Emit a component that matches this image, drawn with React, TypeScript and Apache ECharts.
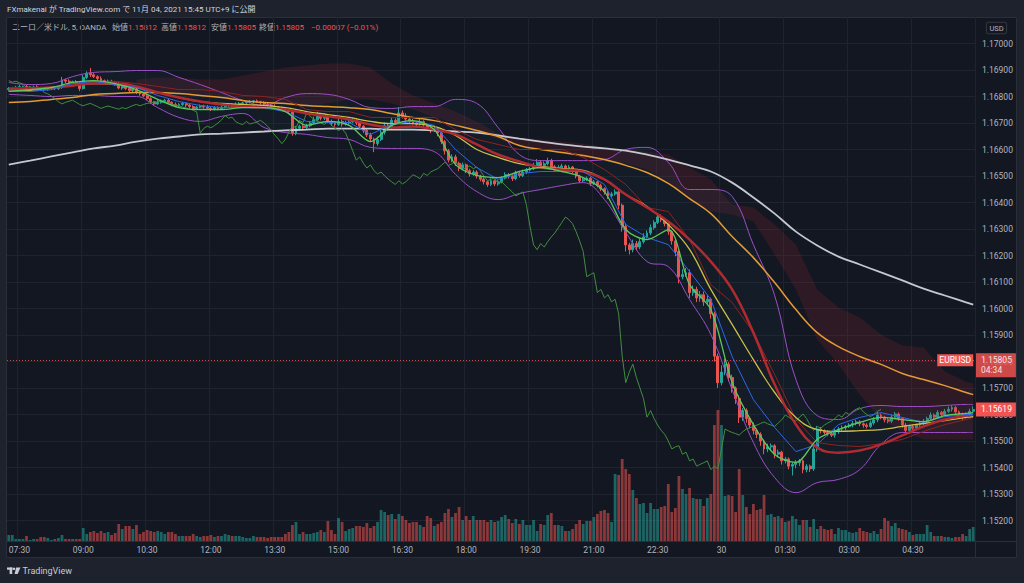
import React, { useEffect, useRef } from "react";
import * as echarts from "echarts";

// ---- values are stored in 0.00001 units above BASE ----
const BASE = 1.15;
const UNIT = 0.00001;
const firstOpen = 1826;

// 5-minute closes, 07:15 .. 05:55 (273 bars)
const closes = [
  1830, 1833, 1835, 1837, 1838, 1832, 1834, 1836, 1833, 1829, 1826, 1830, 1832, 1829, 1835, 1862, 1858, 1852,
  1856, 1848, 1830, 1872, 1888, 1882, 1875, 1868, 1860, 1854, 1858, 1852, 1847, 1832, 1838, 1830, 1822, 1828,
  1815, 1810, 1802, 1792, 1780, 1772, 1778, 1782, 1786, 1778, 1770, 1765, 1770, 1774, 1768, 1762, 1755, 1760,
  1764, 1760, 1756, 1752, 1758, 1754, 1760, 1766, 1770, 1765, 1770, 1774, 1776, 1778, 1780, 1784, 1780, 1776,
  1771, 1768, 1764, 1760, 1757, 1753, 1748, 1742, 1662, 1680, 1688, 1682, 1690, 1700, 1712, 1728, 1718, 1722,
  1705, 1698, 1694, 1706, 1696, 1700, 1704, 1710, 1700, 1688, 1672, 1655, 1640, 1622, 1638, 1665, 1690, 1682,
  1710, 1702, 1738, 1725, 1715, 1708, 1700, 1695, 1705, 1692, 1680, 1672, 1678, 1662, 1630, 1595, 1560, 1572,
  1548, 1530, 1542, 1520, 1508, 1515, 1500, 1488, 1478, 1468, 1482, 1470, 1478, 1492, 1505, 1498, 1490, 1510,
  1502, 1515, 1522, 1528, 1540, 1552, 1540, 1546, 1558, 1535, 1525, 1532, 1538, 1528, 1534, 1520, 1500, 1482,
  1488, 1492, 1472, 1478, 1465, 1452, 1440, 1425, 1432, 1440, 1390, 1310, 1240, 1222, 1245, 1232, 1252, 1270,
  1285, 1305, 1325, 1345, 1335, 1320, 1290, 1255, 1215, 1120, 1128, 1135, 1060, 1072, 1040, 1052, 1025, 1035,
  980, 820, 720, 760, 790, 740, 700, 660, 590, 615, 585, 560, 540, 525, 500, 470, 478, 482,
  450, 458, 425, 432, 405, 412, 418, 425, 392, 405, 395, 470, 545, 538, 532, 528, 522, 535,
  545, 550, 555, 560, 566, 572, 565, 560, 555, 568, 580, 598, 590, 580, 575, 590, 602, 585,
  560, 540, 555, 548, 560, 568, 575, 585, 598, 590, 608, 600, 612, 620, 626, 610, 600, 592,
  600, 612, 619,
];

const upWick = [
  6, 4, 5, 8, 3, 6, 4, 5, 7, 4, 6, 5, 3, 8, 6, 12, 5, 7,
  4, 6, 5, 9, 7, 20, 6, 5, 8, 4, 6, 5, 7, 10, 5, 4, 6, 3,
  5, 4, 6, 8, 5, 3, 9, 7, 5, 6, 4, 8, 5, 6, 3, 7, 5, 4,
  6, 5, 8, 4, 6, 5, 7, 6, 4, 5, 8, 6, 4, 5, 7, 3, 5, 4,
  6, 5, 4, 7, 3, 5, 6, 4, 8, 9, 6, 10, 7, 8, 12, 15, 9, 6,
  12, 8, 6, 14, 7, 9, 8, 10, 6, 7, 5, 6, 8, 5, 10, 14, 12, 9,
  11, 8, 22, 9, 12, 7, 8, 6, 10, 5, 7, 6, 9, 5, 8, 6, 7, 10,
  8, 6, 9, 5, 7, 8, 6, 5, 7, 4, 9, 5, 8, 7, 9, 6, 8, 10,
  6, 9, 8, 7, 10, 12, 8, 9, 11, 7, 6, 9, 8, 5, 7, 4, 6, 5,
  8, 6, 5, 7, 4, 6, 5, 4, 8, 10, 5, 6, 12, 8, 15, 10, 12, 14,
  10, 12, 8, 15, 10, 6, 8, 5, 7, 4, 20, 18, 12, 15, 10, 14, 12, 16,
  6, 8, 10, 25, 20, 8, 10, 6, 12, 9, 8, 6, 10, 7, 8, 5, 12, 9,
  6, 10, 5, 8, 6, 9, 10, 7, 5, 8, 6, 10, 12, 8, 6, 9, 7, 10,
  8, 9, 6, 7, 10, 8, 6, 5, 7, 9, 10, 12, 6, 5, 7, 10, 8, 6,
  5, 8, 6, 7, 5, 9, 8, 7, 10, 6, 8, 5, 9, 10, 8, 6, 5, 7,
  8, 10, 12,
];

const downWick = [
  5, 6, 4, 3, 7, 5, 6, 4, 5, 8, 5, 4, 6, 5, 4, 6, 8, 5,
  6, 5, 10, 4, 6, 8, 5, 7, 4, 6, 5, 8, 6, 5, 7, 6, 5, 8,
  6, 7, 5, 6, 8, 7, 4, 5, 6, 5, 7, 4, 6, 5, 8, 6, 5, 7,
  4, 6, 5, 7, 5, 6, 4, 5, 6, 7, 4, 5, 6, 5, 4, 6, 5, 7,
  5, 6, 7, 4, 6, 5, 7, 6, 10, 8, 6, 5, 7, 6, 5, 4, 8, 7,
  6, 9, 8, 5, 10, 6, 7, 5, 8, 9, 10, 8, 12, 32, 8, 6, 9, 10,
  7, 10, 6, 8, 7, 9, 6, 8, 5, 7, 9, 10, 6, 12, 10, 14, 9, 8,
  10, 12, 8, 9, 10, 7, 9, 8, 10, 9, 6, 8, 7, 6, 5, 8, 9, 6,
  8, 6, 7, 5, 6, 8, 10, 7, 6, 9, 8, 6, 7, 8, 6, 10, 9, 8,
  6, 7, 10, 6, 8, 9, 10, 12, 8, 6, 15, 20, 25, 18, 10, 12, 8, 7,
  6, 8, 7, 6, 9, 10, 12, 14, 18, 25, 10, 8, 20, 12, 16, 14, 15, 12,
  18, 20, 20, 10, 12, 15, 18, 20, 22, 14, 16, 12, 15, 14, 18, 20, 12, 14,
  15, 12, 14, 10, 12, 35, 15, 12, 14, 10, 12, 8, 10, 9, 8, 10, 7, 9,
  8, 7, 9, 6, 8, 7, 9, 10, 8, 6, 7, 9, 8, 10, 8, 7, 6, 9,
  10, 12, 14, 8, 6, 7, 8, 6, 7, 9, 6, 8, 7, 6, 9, 10, 8, 12,
  7, 6, 5,
];

const volumes = [
  6, 6, 2, 2, 2, 5, 1, 2, 2, 4, 4, 3, 1, 2, 3, 6, 2, 2,
  2, 2, 2, 13, 7, 9, 10, 8, 10, 8, 9, 6, 8, 17, 12, 15, 15, 12,
  16, 7, 9, 11, 10, 9, 10, 9, 7, 9, 9, 7, 5, 5, 5, 5, 7, 5,
  4, 5, 5, 6, 4, 5, 5, 7, 6, 5, 5, 5, 4, 3, 3, 5, 4, 4,
  4, 3, 4, 4, 4, 4, 7, 9, 16, 19, 7, 9, 7, 7, 8, 9, 11, 9,
  20, 11, 7, 23, 19, 10, 12, 13, 15, 15, 14, 18, 13, 15, 19, 31, 29, 26,
  27, 22, 27, 25, 21, 18, 19, 19, 16, 14, 25, 23, 15, 17, 19, 28, 32, 24,
  28, 34, 21, 25, 21, 25, 21, 21, 21, 19, 21, 19, 20, 24, 26, 22, 18, 22,
  17, 21, 16, 16, 21, 10, 17, 16, 26, 28, 16, 16, 15, 10, 10, 12, 17, 21,
  17, 20, 20, 24, 27, 30, 31, 28, 19, 67, 66, 82, 72, 67, 51, 43, 37, 38,
  28, 38, 32, 32, 34, 35, 57, 29, 33, 65, 52, 47, 53, 43, 42, 42, 35, 43,
  47, 116, 131, 116, 45, 46, 45, 29, 72, 46, 34, 27, 37, 31, 32, 46, 26, 27,
  24, 25, 23, 19, 20, 25, 22, 16, 21, 21, 14, 22, 12, 15, 12, 11, 12, 7,
  13, 11, 11, 9, 8, 9, 13, 10, 9, 8, 10, 7, 12, 23, 20, 15, 18, 13,
  12, 11, 9, 6, 7, 7, 7, 16, 9, 5, 5, 5, 4, 4, 3, 4, 4, 7,
  5, 12, 14,
];

const startMinute = 7 * 60 + 15;
const tickLabels = ["07:30", "09:00", "10:30", "12:00", "13:30", "15:00", "16:30", "18:00", "19:30", "21:00", "22:30", "30", "01:30", "03:00", "04:30"];

// indicator lines, sampled every 6 bars
const lineBars = [0, 6, 12, 18, 24, 30, 36, 42, 48, 54, 60, 66, 72, 78, 84, 90, 96, 102, 108, 114, 120, 126, 132, 138, 144, 150, 156, 162, 168, 174, 180, 186, 192, 198, 204, 210, 216, 222, 228, 234, 240, 246, 252, 258, 264, 270, 272];
const ma200 = [1543, 1558, 1574, 1589, 1604, 1615, 1630, 1641, 1649, 1657, 1660, 1664, 1668, 1672, 1675, 1679, 1679, 1679, 1675, 1675, 1672, 1668, 1664, 1653, 1641, 1630, 1619, 1611, 1604, 1596, 1581, 1562, 1540, 1517, 1475, 1419, 1358, 1290, 1238, 1196, 1166, 1136, 1106, 1075, 1049, 1023, 1015];
const ma75 = [1777, 1781, 1789, 1796, 1808, 1811, 1815, 1815, 1811, 1804, 1796, 1785, 1777, 1774, 1766, 1762, 1758, 1751, 1736, 1721, 1709, 1691, 1672, 1649, 1615, 1600, 1589, 1577, 1562, 1540, 1513, 1472, 1415, 1358, 1272, 1192, 1098, 996, 909, 856, 819, 789, 755, 732, 709, 683, 675];
const ma25 = [1819, 1823, 1834, 1841, 1849, 1845, 1834, 1815, 1796, 1781, 1774, 1770, 1766, 1758, 1743, 1732, 1721, 1706, 1698, 1698, 1687, 1653, 1600, 1570, 1547, 1536, 1528, 1521, 1487, 1430, 1385, 1317, 1223, 1072, 940, 807, 683, 589, 543, 536, 539, 543, 555, 566, 577, 589, 592];
const ema20 = [1826, 1830, 1834, 1841, 1849, 1849, 1838, 1815, 1796, 1781, 1770, 1762, 1758, 1751, 1736, 1725, 1713, 1694, 1683, 1687, 1675, 1657, 1619, 1581, 1555, 1532, 1524, 1517, 1487, 1430, 1381, 1328, 1260, 1177, 1072, 909, 713, 562, 475, 456, 464, 487, 521, 555, 581, 596, 600];
const kijun = [1834, 1834, 1834, 1849, 1857, 1857, 1849, 1838, 1826, 1826, 1819, 1804, 1800, 1789, 1751, 1743, 1743, 1721, 1721, 1721, 1721, 1675, 1638, 1619, 1600, 1600, 1600, 1570, 1524, 1468, 1381, 1366, 1260, 1090, 1023, 909, 751, 581, 494, 483, 479, 490, 506, 536, 562, 581, 589];
const tenkan = [1819, 1819, 1826, 1849, 1857, 1845, 1834, 1804, 1781, 1766, 1758, 1758, 1758, 1743, 1706, 1702, 1702, 1657, 1694, 1706, 1691, 1600, 1532, 1487, 1509, 1517, 1517, 1517, 1468, 1317, 1268, 1241, 1140, 1034, 819, 656, 551, 460, 487, 562, 589, 607, 589, 570, 592, 600, 600];
const ma5 = [1819, 1826, 1834, 1853, 1860, 1849, 1826, 1789, 1758, 1751, 1751, 1758, 1758, 1743, 1691, 1706, 1691, 1630, 1691, 1709, 1675, 1543, 1502, 1494, 1517, 1532, 1517, 1494, 1441, 1298, 1260, 1298, 1090, 996, 721, 562, 449, 419, 506, 543, 570, 589, 581, 573, 596, 604, 607];
const bbUpper = [1853, 1845, 1849, 1875, 1891, 1894, 1898, 1898, 1872, 1845, 1815, 1785, 1766, 1796, 1811, 1808, 1789, 1758, 1755, 1762, 1762, 1789, 1774, 1683, 1581, 1558, 1558, 1558, 1562, 1600, 1608, 1551, 1449, 1449, 1423, 1241, 1049, 732, 596, 581, 622, 634, 630, 630, 634, 638, 638];
const bbLower = [1808, 1804, 1800, 1804, 1804, 1800, 1800, 1758, 1721, 1706, 1725, 1736, 1683, 1664, 1657, 1645, 1638, 1608, 1604, 1604, 1592, 1506, 1441, 1411, 1434, 1449, 1464, 1475, 1411, 1287, 1177, 1158, 1034, 902, 694, 494, 362, 305, 343, 355, 392, 487, 532, 532, 532, 532, 532];

// ichimoku cloud (leading spans), sampled every 6 bars
const cloudBars = [36, 42, 48, 54, 60, 66, 72, 78, 84, 90, 96, 102, 108, 114, 120, 126, 132, 138, 144, 150, 156, 162, 168, 174, 180, 186, 192, 198, 204, 210, 216, 222, 228, 234, 240, 246, 252, 258, 264, 270, 272];
const spanA = [1864, 1872, 1872, 1864, 1864, 1879, 1894, 1909, 1917, 1925, 1925, 1909, 1849, 1804, 1774, 1743, 1706, 1660, 1645, 1638, 1630, 1623, 1608, 1600, 1592, 1581, 1532, 1487, 1392, 1381, 1317, 1241, 1072, 1004, 966, 902, 860, 853, 762, 724, 717];
const spanB = [1826, 1819, 1811, 1804, 1796, 1789, 1781, 1774, 1766, 1774, 1789, 1789, 1774, 1751, 1721, 1698, 1668, 1638, 1615, 1600, 1585, 1570, 1555, 1547, 1524, 1479, 1411, 1366, 1355, 1328, 1204, 1072, 883, 789, 675, 581, 536, 506, 506, 506, 506];
const laggingShift = 26;

const livePrice = 1.15805;
const liveCountdown = "04:34";
const symbolTag = "EURUSD";
const headerTitle = "FXmakenai が TradingView.com で 11月 04, 2021 15:45 UTC+9 に公開";
const legendLabels = ["ユーロ／米ドル, 5, OANDA", "始値", "高値", "安値", "終値"];
const legendValues = ["1.15812", "1.15812", "1.15805", "1.15805", "−0.00007 (−0.01%)"];

const FONT = 'Roboto, "Noto Sans CJK JP", "Noto Sans", sans-serif';
const UP = "#26a69a";
const DOWN = "#ef5350";

const toPrice = (v: number) => Math.round((BASE + v * UNIT) * 100000) / 100000;

export default function App() {
  const ref = useRef<HTMLDivElement>(null);

  useEffect(() => {
    if (!ref.current) return;
    const chart = echarts.init(ref.current, null, { renderer: "svg" });

    const n = closes.length;
    const categories = closes.map((_, i) => {
      const m = startMinute + i * 5;
      const h = Math.floor(m / 60) % 24;
      const mm = m % 60;
      return `${String(h).padStart(2, "0")}:${String(mm).padStart(2, "0")}`;
    });
    const opens = closes.map((c, i) => (i === 0 ? firstOpen : closes[i - 1]));
    const candles = closes.map((c, i) => {
      const o = opens[i];
      const hi = Math.max(o, c) + upWick[i];
      const lo = Math.min(o, c) - downWick[i];
      return [toPrice(o), toPrice(c), toPrice(lo), toPrice(hi)];
    });
    const volData = volumes.map((v, i) => ({
      value: v,
      itemStyle: { color: closes[i] >= opens[i] ? "rgba(38,166,154,0.55)" : "rgba(239,83,80,0.55)" },
    }));
    const pairs = (bars: number[], vals: number[]) => bars.map((b, k) => [b, toPrice(vals[k])]);
    const diffPairs = (bars: number[], top: number[], bottom: number[]) =>
      bars.map((b, k) => [b, Math.round((top[k] - bottom[k]) * UNIT * 100000) / 100000]);
    const lagging = closes.slice(laggingShift).map((c, k) => [k, toPrice(c)]);
    const lastClose = toPrice(closes[n - 1]);

    const tickShown = (index: number) => index >= 3 && (index - 3) % 18 === 0;

    const lineSeries = (name: string, bars: number[], vals: number[], color: string, width: number, smooth: boolean | number) => ({
      type: "line",
      name,
      xAxisIndex: 0,
      yAxisIndex: 0,
      data: pairs(bars, vals),
      showSymbol: false,
      symbol: "none",
      smooth,
      lineStyle: { color, width },
      silent: true,
    });

    const gray = "#b2b5be";
    const legendX = [12, 112, 161, 211, 259];
    const valueX = [128, 177, 227, 275, 311];

    const graphic: any[] = [
      { type: "rect", shape: { x: 0, y: 0, width: 1024, height: 17 }, style: { fill: "#1e222d" }, silent: true },
      { type: "rect", shape: { x: 0, y: 0, width: 6, height: 583 }, style: { fill: "#1e222d" }, silent: true },
      { type: "rect", shape: { x: 1017, y: 0, width: 7, height: 583 }, style: { fill: "#1e222d" }, silent: true },
      { type: "rect", shape: { x: 0, y: 558, width: 1024, height: 25 }, style: { fill: "#1e222d" }, silent: true },
      { type: "rect", shape: { x: 6.5, y: 17.5, width: 1010, height: 540 }, style: { fill: "none", stroke: "#2a2e39", lineWidth: 1 }, silent: true },
      { type: "line", shape: { x1: 975.5, y1: 17, x2: 975.5, y2: 558 }, style: { stroke: "#2a2e39", lineWidth: 1 }, silent: true },
      { type: "line", shape: { x1: 6.5, y1: 541.5, x2: 1017, y2: 541.5 }, style: { stroke: "#2a2e39", lineWidth: 1 }, silent: true },
      {
        type: "text",
        x: 7,
        y: 9,
        style: { text: headerTitle, fill: "#d1d4dc", font: `8px ${FONT}`, verticalAlign: "middle" },
        silent: true,
      },
      ...legendLabels.map((t, i) => ({
        type: "text",
        x: legendX[i],
        y: 27,
        style: { text: t, fill: gray, font: `8px ${FONT}`, verticalAlign: "middle" },
        silent: true,
      })),
      ...legendValues.map((t, i) => ({
        type: "text",
        x: valueX[i],
        y: 27,
        style: { text: t, fill: DOWN, font: `8px ${FONT}`, verticalAlign: "middle" },
        silent: true,
      })),
      {
        type: "text",
        x: 996.5,
        y: 28,
        style: {
          text: "USD",
          fill: gray,
          font: `7.5px ${FONT}`,
          align: "center",
          verticalAlign: "middle",
          borderColor: "#363a45",
          borderWidth: 1,
          borderRadius: 2,
          padding: [2, 3, 2, 3],
        },
        silent: true,
      },
      // TradingView logo
      { type: "rect", shape: { x: 7, y: 567.5, width: 5.5, height: 2.2 }, style: { fill: "#c9ccd4" }, silent: true },
      { type: "rect", shape: { x: 9.6, y: 567.5, width: 2.6, height: 6.5 }, style: { fill: "#c9ccd4" }, silent: true },
      { type: "circle", shape: { cx: 14, cy: 568.8, r: 1.3 }, style: { fill: "#c9ccd4" }, silent: true },
      { type: "polygon", shape: { points: [[16.2, 567.5], [20.5, 567.5], [17.6, 574], [14.6, 574]] }, style: { fill: "#c9ccd4" }, silent: true },
      {
        type: "text",
        x: 22.5,
        y: 571,
        style: { text: "TradingView", fill: "#c9ccd4", font: `9px ${FONT}`, verticalAlign: "middle" },
        silent: true,
      },
    ];

    const tagLabel = {
      show: true,
      position: "end",
      distance: 1,
      color: "#ffffff",
      backgroundColor: "#f05350",
      padding: [2, 4, 2, 5],
      fontSize: 8.5,
      lineHeight: 10,
      fontFamily: FONT,
      align: "left",
    };

    const option: any = {
      animation: false,
      backgroundColor: "#131722",
      textStyle: { fontFamily: FONT },
      grid: [
        { left: 7, right: 49, top: 17, bottom: 36 },
        { left: 7, right: 49, top: 17, bottom: 42 },
      ],
      xAxis: [
        {
          type: "category",
          gridIndex: 0,
          data: categories,
          boundaryGap: true,
          show: false,
        },
        {
          type: "category",
          gridIndex: 1,
          data: categories,
          boundaryGap: true,
          axisLine: { show: false },
          axisTick: { show: false },
          axisLabel: {
            interval: (index: number) => tickShown(index),
            formatter: (value: string, index: number) => tickLabels[(index - 3) / 18] ?? value,
            color: gray,
            fontSize: 8.5,
            margin: 5,
            fontFamily: FONT,
          },
          splitLine: {
            show: true,
            interval: (index: number) => tickShown(index),
            lineStyle: { color: "#1f2330", width: 1 },
          },
        },
      ],
      yAxis: [
        {
          type: "value",
          gridIndex: 0,
          position: "right",
          min: 1.151,
          max: 1.171,
          interval: 0.001,
          axisLine: { show: false },
          axisTick: { show: false },
          axisLabel: {
            color: gray,
            fontSize: 8.5,
            margin: 7,
            fontFamily: FONT,
            showMinLabel: false,
            showMaxLabel: false,
            formatter: (v: number) => v.toFixed(5),
          },
          splitLine: { show: true, showMinLine: false, showMaxLine: false, lineStyle: { color: "#1f2330", width: 1 } },
        },
        {
          type: "value",
          gridIndex: 1,
          min: 0,
          max: 524,
          show: false,
          splitLine: { show: false },
        },
      ],
      graphic,
      series: [
        {
          type: "bar",
          name: "volume",
          xAxisIndex: 1,
          yAxisIndex: 1,
          data: volData,
          barWidth: "78%",
          silent: true,
        },
        {
          type: "line",
          name: "spanB",
          data: pairs(cloudBars, spanB),
          stack: "cloud",
          showSymbol: false,
          symbol: "none",
          lineStyle: { width: 0, opacity: 0 },
          silent: true,
        },
        {
          type: "line",
          name: "spanA",
          data: diffPairs(cloudBars, spanA, spanB),
          stack: "cloud",
          showSymbol: false,
          symbol: "none",
          lineStyle: { width: 0, opacity: 0 },
          areaStyle: { color: "rgba(178,40,51,0.24)" },
          silent: true,
        },
        {
          type: "line",
          name: "bbLower",
          data: pairs(lineBars, bbLower),
          stack: "bb",
          smooth: 0.4,
          showSymbol: false,
          symbol: "none",
          lineStyle: { color: "#9c4fc6", width: 1 },
          silent: true,
        },
        {
          type: "line",
          name: "bbUpper",
          data: diffPairs(lineBars, bbUpper, bbLower),
          stack: "bb",
          smooth: 0.4,
          showSymbol: false,
          symbol: "none",
          lineStyle: { color: "#9c4fc6", width: 1 },
          areaStyle: { color: "rgba(33,150,160,0.06)" },
          silent: true,
        },
        lineSeries("ma200", lineBars, ma200, "#c5c8d0", 1.8, 0.4),
        lineSeries("ma75", lineBars, ma75, "#e39b34", 1.5, 0.4),
        {
          type: "line",
          name: "lagging",
          data: lagging,
          showSymbol: false,
          symbol: "none",
          lineStyle: { color: "#3f8f3f", width: 1 },
          silent: true,
        },
        lineSeries("kijun", lineBars, kijun, "#8e2222", 1, false),
        lineSeries("ma25", lineBars, ma25, "#cbbf48", 1.3, 0.4),
        lineSeries("ema20", lineBars, ema20, "#b02a31", 2.5, 0.4),
        lineSeries("tenkan", lineBars, tenkan, "#2e66ee", 1, false),
        {
          ...lineSeries("ma5", lineBars, ma5, "#5cc95c", 1.3, 0.3),
          markLine: {
            silent: true,
            symbol: ["none", "none"],
            precision: 5,
            animation: false,
            data: [
              {
                yAxis: livePrice,
                lineStyle: { color: "#ef5350", type: [1, 2], width: 1, opacity: 0.85 },
                label: { ...tagLabel, offset: [0, 5], formatter: `${livePrice.toFixed(5)}\n${liveCountdown}` },
              },
            ],
          },
        },
        {
          type: "candlestick",
          name: "EURUSD",
          xAxisIndex: 0,
          yAxisIndex: 0,
          data: candles,
          barWidth: 2.4,
          itemStyle: { color: UP, color0: DOWN, borderColor: UP, borderColor0: DOWN, borderWidth: 1 },
          silent: true,
          markLine: {
            silent: true,
            symbol: ["none", "none"],
            precision: 5,
            animation: false,
            data: [
              {
                yAxis: lastClose,
                lineStyle: { color: "rgba(0,0,0,0)", width: 1, type: "solid" },
                label: { ...tagLabel, formatter: lastClose.toFixed(5) },
              },
            ],
          },
          markPoint: {
            silent: true,
            animation: false,
            data: [
              {
                coord: [n - 1, livePrice],
                symbol: "rect",
                symbolSize: [36, 12],
                symbolOffset: [-18, 0],
                itemStyle: { color: "#f05350" },
                label: { show: true, formatter: symbolTag, color: "#ffffff", fontSize: 8.5, fontFamily: FONT },
              },
            ],
          },
        },
      ],
    };

    chart.setOption(option);
    return () => chart.dispose();
  }, []);

  return <div ref={ref} style={{ position: "fixed", left: 0, top: 0, width: 1024, height: 583 }} />;
}
